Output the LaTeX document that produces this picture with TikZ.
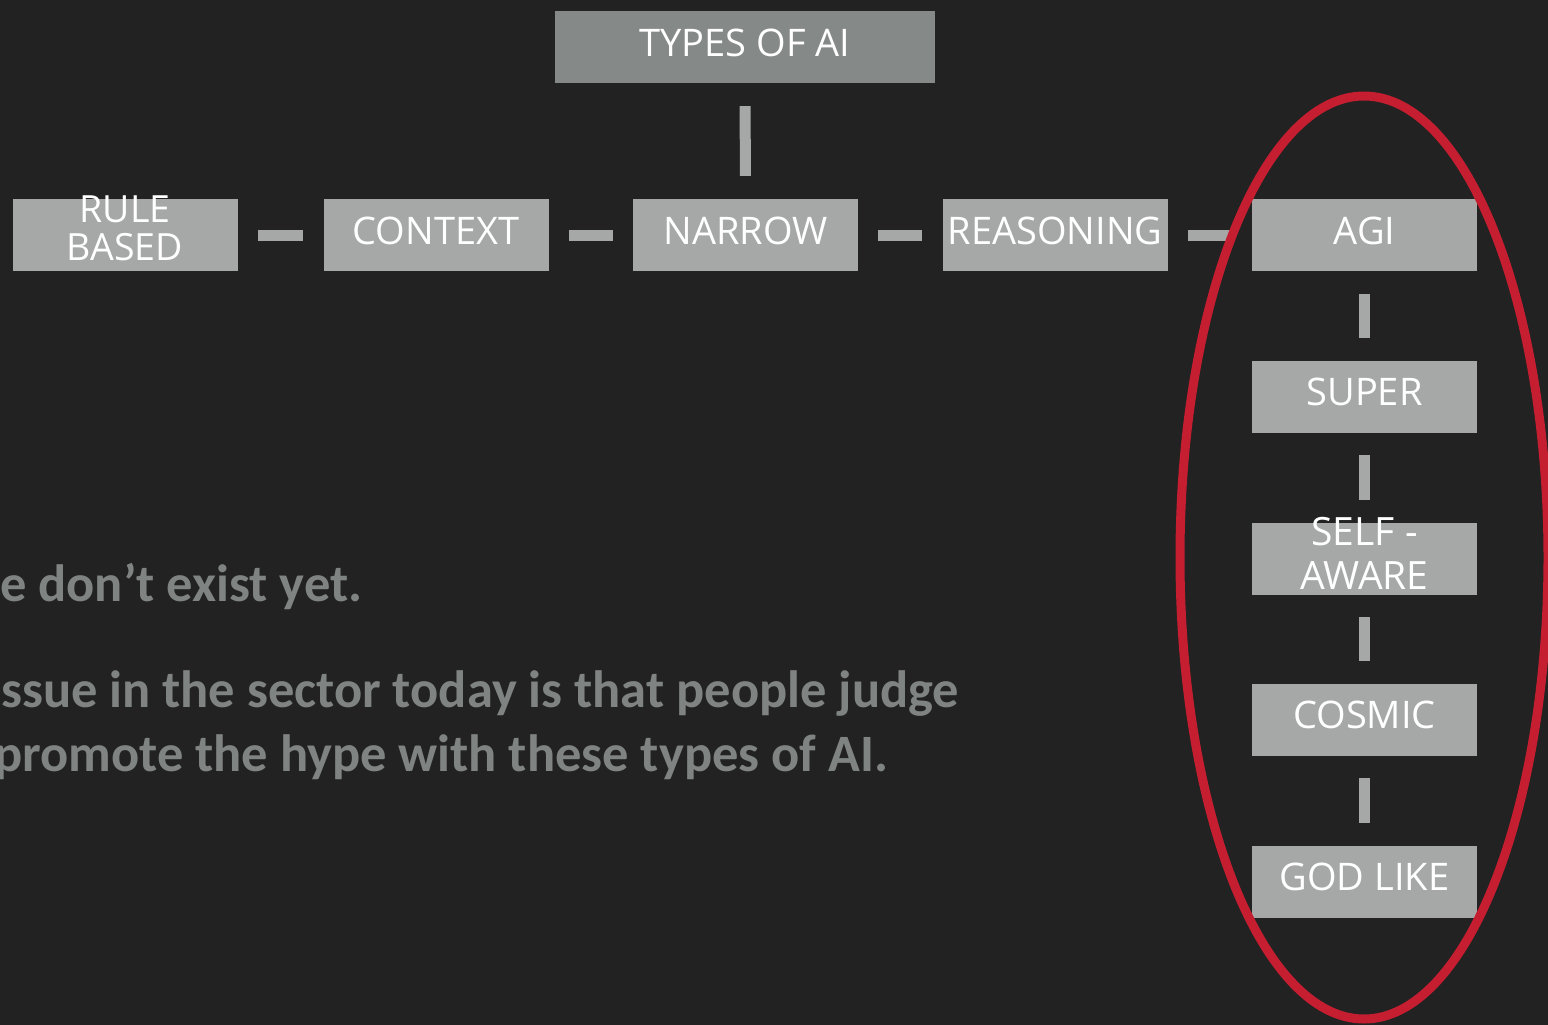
\documentclass[tikz,border=0pt]{standalone}
\usepackage{fontspec}
\setmainfont{Open Sans}
\newfontfamily\bodyfont{Carlito}
\definecolor{bg}{RGB}{34,34,34}
\definecolor{boxgray}{RGB}{165,168,166}
\definecolor{topgray}{RGB}{133,137,136}
\definecolor{txtgray}{RGB}{127,131,130}
\definecolor{ringred}{RGB}{196,30,48}
\begin{document}
\begin{tikzpicture}[x=1pt,y=-1pt,
  box/.style={fill=boxgray, minimum width=225pt, minimum height=72pt, inner sep=0pt,
    text=white, font=\fontsize{38}{38}\selectfont, text height=18pt, text depth=0pt},
  titlebox/.style={box, fill=topgray, minimum width=380pt, font=\fontsize{38}{38}\selectfont, text height=20pt},
  twoline/.style={align=center, text depth=0pt},
  bar/.style={draw=boxgray, line width=11pt},
  hbar/.style={bar, shorten <=20pt, shorten >=20pt},
  vbar/.style={bar, shorten <=22.5pt, shorten >=22.5pt},
  body/.style={inner sep=0pt, anchor=base west, text=txtgray,
    font=\bodyfont\bfseries\fontsize{52.5}{52.5}\selectfont},
  ring/.style={draw=ringred, line width=9pt}]
\fill[bg] (0,0) rectangle (1548,1025);
\useasboundingbox (0,0) rectangle (1548,1025);
\clip (0,0) rectangle (1548,1025);

\node[titlebox] (types) at (745,47) {TYPES OF AI};

\node[box, twoline, text height=50pt, font=\fontsize{37.5}{38}\selectfont] (rb) at (125,235) {RULE\\BASED};
\node[box] (ctx) at (436,235) {CONTEXT};
\node[box] (nar) at (745.5,235) {NARROW};
\node[box] (rea) at (1055,235) {REASONING};
\node[box] (agi) at (1364.5,235) {AGI};
\node[box] (sup) at (1364.5,396.5) {SUPER};
\node[box, twoline, text height=61.5pt, font=\fontsize{39}{43.5}\selectfont] (self) at (1364.5,558.5) {SELF -\\AWARE};
\node[box] (cos) at (1364.5,719.5) {COSMIC};
\node[box] (god) at (1364.5,881.5) {GOD LIKE};

\draw[bar, shorten <=23pt, shorten >=23pt] (types.south) -- (nar.north);
\draw[hbar] (rb.east) -- (ctx.west);
\draw[hbar] (ctx.east) -- (nar.west);
\draw[hbar] (nar.east) -- (rea.west);
\draw[hbar] (rea.east) -- (agi.west);
\draw[vbar] (agi.south) -- (sup.north);
\draw[vbar] (sup.south) -- (self.north);
\draw[vbar] (self.south) -- (cos.north);
\draw[vbar] (cos.south) -- (god.north);

\draw[ring] (1364,557.5) ellipse [x radius=184pt, y radius=461.5pt];

\node[body] (t1) at (0,601) {e don’t exist yet.};
\node[body] (t2) at (1,707) {ssue in the sector today is that people judge};
\node[body] (t3) at (-6,771) {promote the hype with these types of AI.};
\end{tikzpicture}
\end{document}
